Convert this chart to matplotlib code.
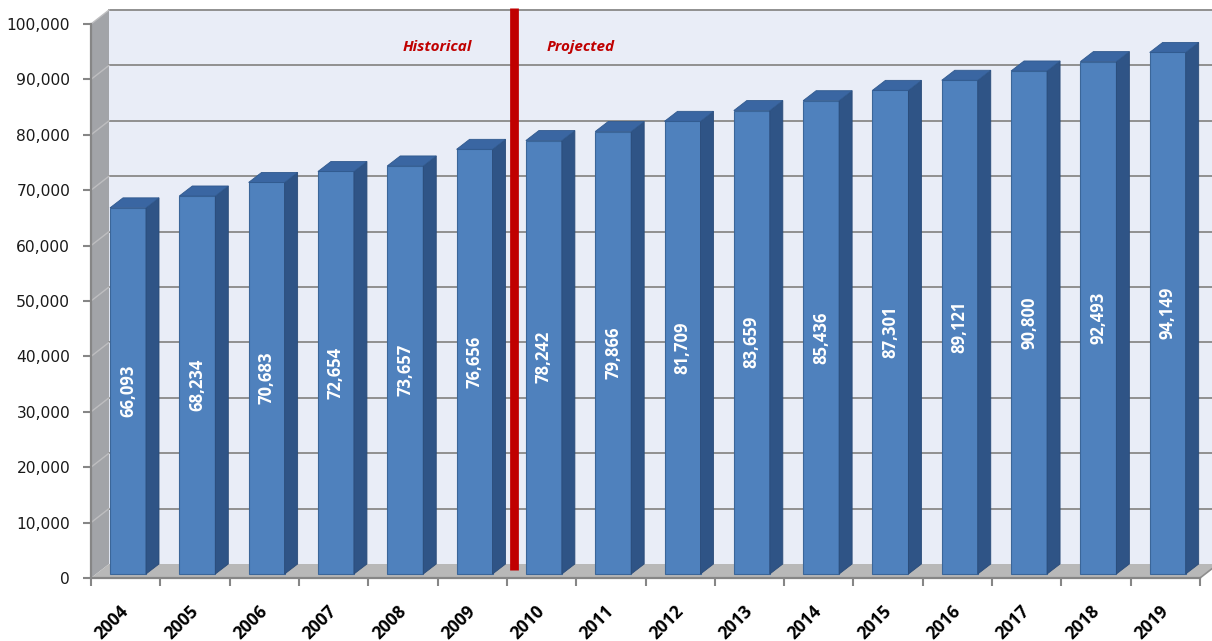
import matplotlib.pyplot as plt
from matplotlib.patches import Polygon

years = [str(y) for y in range(2004, 2020)]
employment = [66093, 68234, 70683, 72654, 73657, 76656, 78242, 79866,
              81709, 83659, 85436, 87301, 89121, 90800, 92493, 94149]
yticks = list(range(0, 100001, 10000))
split_at = 6.11          # divider between historical and projected years

W, H = 1212, 641
fig = plt.figure(figsize=(W / 100, H / 100), dpi=100)
x0, x1, y0, y1 = 91, 1200, 578, 24
ax = fig.add_axes([x0 / W, 1 - y0 / H, (x1 - x0) / W, (y0 - y1) / H])
n = len(years)
ymax = 100000
ax.set_xlim(0, n)
ax.set_ylim(0, ymax)

# pixel -> data unit factors for the fake 3-D depth
ux = n / (x1 - x0)
uy = ymax / (y0 - y1)
wdx, wdy = 18 * ux, 14 * uy      # wall depth
bdx, bdy = 13 * ux, 10 * uy      # bar depth
base = 4 * uy                    # bars stand slightly back on the floor

# back wall
ax.add_patch(Polygon([(wdx, wdy), (n + 2, wdy), (n + 2, ymax + wdy), (wdx, ymax + wdy)],
                     closed=True, fc='#E9EDF7', ec='none', clip_on=False, zorder=0))
# left wall
ax.add_patch(Polygon([(0, 0), (wdx, wdy), (wdx, ymax + wdy), (0, ymax)],
                     closed=True, fc='#A2A4A8', ec='none', clip_on=False, zorder=1))
# gridlines on walls
for v in yticks[1:]:
    ax.plot([wdx, n + 2], [v + wdy, v + wdy], color='#909090', lw=1.4, clip_on=False, zorder=1)
    ax.plot([0, wdx], [v, v + wdy], color='#BEBEC0', lw=1.0, clip_on=False, zorder=1)
# floor
ax.add_patch(Polygon([(0, 0), (n, 0), (n + wdx, wdy), (wdx, wdy)],
                     closed=True, fc='#B8B8B8', ec='none', clip_on=False, zorder=1))
ax.plot([n, n + wdx], [0, wdy], color='#8E8E8E', lw=1.2, clip_on=False, zorder=2)

# bars: front faces
lefts = [i + 19 * ux for i in range(n)]
bw = 36 * ux
bars = ax.bar(lefts, employment, width=bw, bottom=base, align='edge',
              color='#4F81BD', edgecolor='#3B6699', linewidth=0.8, zorder=3)
for left, v in zip(lefts, employment):
    top = base + v
    r = left + bw
    ax.add_patch(Polygon([(r, base), (r + bdx, base + bdy), (r + bdx, top + bdy), (r, top)],
                         closed=True, fc='#2F5486', ec='#2A4B78', lw=0.6, zorder=3))
    ax.add_patch(Polygon([(left, top), (r, top), (r + bdx, top + bdy), (left + bdx, top + bdy)],
                         closed=True, fc='#3A66A2', ec='#30598E', lw=0.6, zorder=3))
    ax.text(left + bw / 2, base + v / 2, f'{v:,}', rotation=90, ha='center', va='center',
            color='white', fontsize=12, fontweight='bold', family='Open Sans', zorder=4)

# historical / projected divider
ax.plot([split_at, split_at], [1400, 102900], color='#C00000', lw=6.3,
        solid_capstyle='butt', clip_on=False, zorder=5)
ax.text(5.0, 95850, 'Historical', color='#C00000', fontsize=11, fontweight='bold',
        style='italic', family='Open Sans', ha='center', va='center', zorder=5)
ax.text(7.07, 95850, 'Projected', color='#C00000', fontsize=11, fontweight='bold',
        style='italic', family='Open Sans', ha='center', va='center', zorder=5)

# axes
for s in ['top', 'right']:
    ax.spines[s].set_visible(False)
for s in ['left', 'bottom']:
    ax.spines[s].set_color('#868686')
    ax.spines[s].set_linewidth(1.6)
    ax.spines[s].set_zorder(2)
ax.set_yticks(yticks)
ax.set_yticklabels([f'{v:,}' for v in yticks], fontsize=11.2, family='DejaVu Sans', color='#1A1A1A')
ax.set_xticks(range(n + 1))
ax.set_xticklabels([])
ax.tick_params(axis='both', direction='out', length=6, width=1.5, color='#868686')
ax.tick_params(axis='y', pad=9)

for i, yr in enumerate(years):
    ax.text(i + 0.5 - 6 * ux, -24 * uy, yr, rotation=45, rotation_mode='anchor',
            ha='right', va='top', fontsize=12.5, fontweight='bold', family='Open Sans',
            color='black', clip_on=False)

fig.savefig('out.png', dpi=100)
